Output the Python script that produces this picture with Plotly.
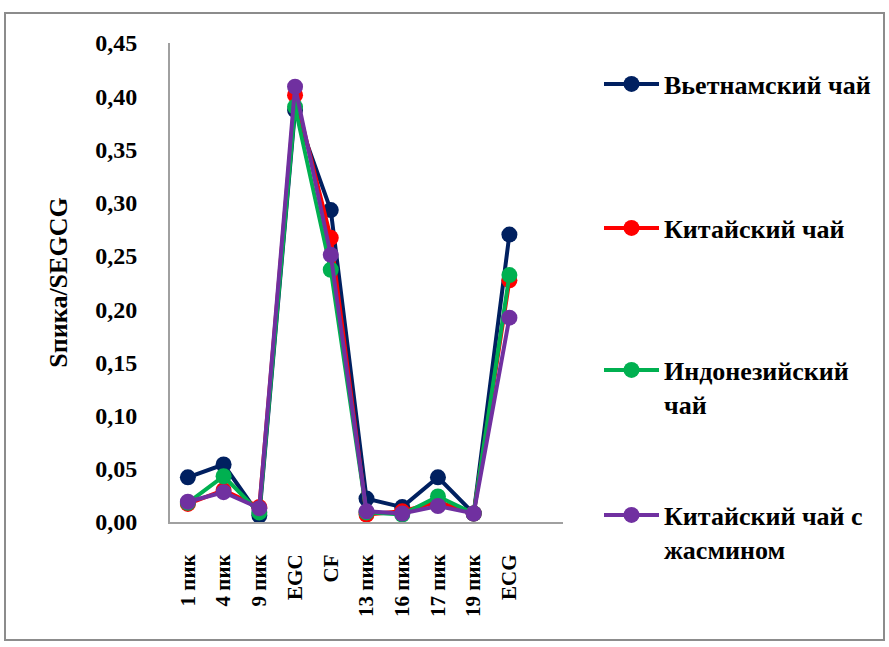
import plotly.graph_objects as go

categories = ["1 пик", "4 пик", "9 пик", "EGC", "CF", "13 пик", "16 пик", "17 пик", "19 пик", "ECG"]
vietnam = [0.042, 0.054, 0.006, 0.387, 0.293, 0.022, 0.014, 0.042, 0.008, 0.270]
china = [0.017, 0.030, 0.014, 0.401, 0.267, 0.007, 0.010, 0.019, 0.008, 0.227]
indonesia = [0.018, 0.043, 0.009, 0.390, 0.237, 0.009, 0.007, 0.024, 0.008, 0.232]
jasmine = [0.019, 0.028, 0.013, 0.409, 0.251, 0.010, 0.008, 0.015, 0.008, 0.192]
series_names = ["Вьетнамский чай", "Китайский чай", "Индонезийский<br>чай", "Китайский чай с<br>жасмином"]
y_ticks = [0.0, 0.05, 0.10, 0.15, 0.20, 0.25, 0.30, 0.35, 0.40, 0.45]
y_tick_labels = ["0,00", "0,05", "0,10", "0,15", "0,20", "0,25", "0,30", "0,35", "0,40", "0,45"]

colors = ["#002060", "#FF0000", "#00B050", "#7030A0"]
data = [vietnam, china, indonesia, jasmine]
legend_ids = ["legend", "legend2", "legend3", "legend4"]
FONT = "Liberation Serif, DejaVu Serif, serif"

fig = go.Figure()
for name, vals, col, lg in zip(series_names, data, colors, legend_ids):
    fig.add_trace(go.Scatter(
        x=categories, y=vals, name=name, mode="lines+markers",
        line=dict(color=col, width=4),
        marker=dict(color=col, size=16),
        legend=lg, showlegend=True,
    ))

W, H = 889, 647
L, R, T, B = 170, 326, 43, 125
pw, ph = W - L - R, H - T - B

def px_x(x):
    return (x - L) / pw

def px_y(y):
    return (H - B - y) / ph

def f(size):
    return dict(family=FONT, size=size, color="black", weight="bold")

leg_common = dict(
    x=px_x(599), xanchor="left", yanchor="middle",
    font=f(26),
    bgcolor="rgba(0,0,0,0)", itemwidth=55, valign="top",
    tracegroupgap=0, visible=True,
)
fig.update_layout(
    width=W, height=H,
    margin=dict(l=L, r=R, t=T, b=B),
    paper_bgcolor="white", plot_bgcolor="white",
    showlegend=True,
    font=f(21),
    legend=dict(y=px_y(84), **leg_common),
    legend2=dict(y=px_y(228), **leg_common),
    legend3=dict(y=px_y(387), **leg_common),
    legend4=dict(y=px_y(532), **leg_common),
    xaxis=dict(
        type="category", categoryorder="array", categoryarray=categories,
        range=[-0.5, 10.5], tickangle=-90,
        showline=True, linecolor="#A0A0A0", linewidth=2,
        showgrid=False, ticks="", zeroline=False,
        tickfont=f(21),
        ticklabelstandoff=22,
    ),
    yaxis=dict(
        range=[0, 0.45], tickvals=y_ticks, ticktext=y_tick_labels,
        showline=True, linecolor="#A0A0A0", linewidth=2,
        showgrid=False, ticks="", zeroline=False,
        tickfont=f(24),
        ticklabelstandoff=26,
        title=dict(text="Sпика/SEGCG", font=f(26), standoff=20),
    ),
    shapes=[dict(
        type="rect", xref="paper", yref="paper",
        x0=px_x(5), x1=px_x(884), y0=px_y(640), y1=px_y(13),
        line=dict(color="#8C8C8C", width=2), fillcolor="rgba(0,0,0,0)", layer="below",
    )],
)

fig.write_html("out.html")
